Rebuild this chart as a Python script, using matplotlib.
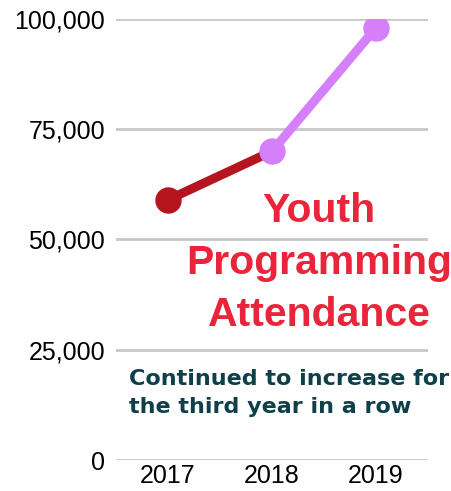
import matplotlib
matplotlib.use("Agg")
import matplotlib.pyplot as plt

years = ["2017", "2018", "2019"]
attendance = [59000, 70000, 98000]
yticks = [0, 25000, 50000, 75000, 100000]
ytick_labels = ["0", "25,000", "50,000", "75,000", "100,000"]
title_text = "Youth\nProgramming\nAttendance"
subtitle_text = "Continued to increase for\nthe third year in a row"

plt.rcParams['font.family'] = ['Liberation Sans', 'DejaVu Sans']

fig = plt.figure(figsize=(4.52, 4.91), dpi=100)
W, H = 452, 491
ax = fig.add_axes([116 / W, 1 - 460 / H, (428 - 116) / W, (460 - 19) / H])

x = list(range(len(years)))
ax.set_xlim(-0.5, 2.5)
ax.set_ylim(0, 100000)

ax.plot(x[0:2], attendance[0:2], color="#b5151f", lw=6.5, solid_capstyle="round", zorder=3)
ax.plot(x[1:3], attendance[1:3], color="#d580fa", lw=6.5, solid_capstyle="round", zorder=3)
ax.plot(x[0], attendance[0], "o", color="#b5151f", ms=18, zorder=4)
ax.plot(x[1:3], attendance[1:3], "o", color="#d580fa", ms=18, zorder=4)

ax.set_yticks(yticks)
ax.set_yticklabels(ytick_labels, fontsize=18)
ax.set_xticks(x)
ax.set_xticklabels(years, fontsize=18)
ax.tick_params(length=0, pad=8)
ax.tick_params(axis='x', pad=3)
ax.grid(axis='y', color="#c8c8c8", lw=2)
ax.set_axisbelow(True)
for s in ax.spines.values():
    s.set_visible(False)
ax.set_clip_on(False)

fig.text(319 / W, 1 - 263 / H, title_text, color="#e8253a", fontsize=29.5, fontweight="bold",
         ha="center", va="center", linespacing=1.47)
fig.text(129 / W, 1 - 393 / H, subtitle_text, color="#0d4049", fontsize=16, fontweight="bold",
         family=["DejaVu Sans"], ha="left", va="center", linespacing=1.5)

fig.savefig("out.png", dpi=100)
